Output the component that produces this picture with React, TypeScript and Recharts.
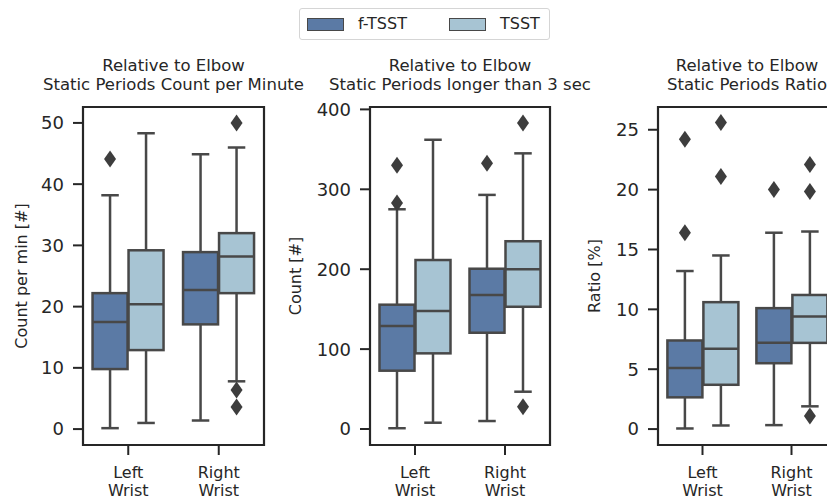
import React from "react";
import { ComposedChart, Bar, XAxis, YAxis, ReferenceArea } from "recharts";

const categories = ["Left Wrist", "Right Wrist"];
const seriesNames = ["f-TSST", "TSST"];
const seriesColors = ["#5b7aa5", "#a7c4d3"];

// [whisker low, q1, median, q3, whisker high]
const perMinFTsst = [[0.15, 9.8, 17.5, 22.2, 38.2], [1.4, 17.1, 22.7, 28.9, 44.9]];
const perMinTsst = [[1.0, 12.9, 20.4, 29.2, 48.3], [7.8, 22.2, 28.2, 32.0, 46.0]];
const perMinOutFTsst = [[44.1], []];
const perMinOutTsst = [[], [50.0, 6.4, 3.6]];

const longFTsst = [[1, 73, 129, 155.6, 275], [10, 120.5, 167.7, 200.6, 293]];
const longTsst = [[7.9, 94.7, 147.7, 211.5, 362], [46.7, 153, 200, 235, 345]];
const longOutFTsst = [[330, 283], [332.5]];
const longOutTsst = [[], [383, 28]];

const ratioFTsst = [[0.05, 2.65, 5.1, 7.4, 13.2], [0.33, 5.5, 7.2, 10.1, 16.4]];
const ratioTsst = [[0.3, 3.7, 6.7, 10.6, 14.5], [1.9, 7.2, 9.4, 11.2, 16.5]];
const ratioOutFTsst = [[24.2, 16.4], [20.0]];
const ratioOutTsst = [[25.6, 21.1], [22.1, 19.85, 1.1]];

const perMinTicks = [0, 10, 20, 30, 40, 50];
const longTicks = [0, 100, 200, 300, 400];
const ratioTicks = [0, 5, 10, 15, 20, 25];

const FONT = "'DejaVu Sans', sans-serif";
const TEXT = "#262626";
const EDGE = "#484848";

function makeRows(f: number[][], t: number[][], fo: number[][], to: number[][]) {
  return categories.map((name, i) => ({ name, f: f[i], t: t[i], fo: fo[i], to: to[i] }));
}

function BoxShape(props: any) {
  const { x, y, width, height, payload, sk, ok, fill } = props;
  const s: number[] = payload[sk];
  const outs: number[] = payload[ok] || [];
  const [lo, q1, med, q3, hi] = s;
  const yTop = Math.min(y, y + height);
  const yBot = Math.max(y, y + height);
  const unit = (yBot - yTop) / (hi - lo);
  const toY = (v: number) => yTop + (hi - v) * unit;
  const bx = x + 0.5;
  const bw = width - 1;
  const cx = x + width / 2;
  const cap = bw / 4;
  return (
    <g>
      <line x1={cx} x2={cx} y1={toY(hi)} y2={toY(q3)} stroke={EDGE} strokeWidth={2.5} />
      <line x1={cx} x2={cx} y1={toY(q1)} y2={toY(lo)} stroke={EDGE} strokeWidth={2.5} />
      <line x1={cx - cap} x2={cx + cap} y1={toY(hi)} y2={toY(hi)} stroke={EDGE} strokeWidth={2.5} />
      <line x1={cx - cap} x2={cx + cap} y1={toY(lo)} y2={toY(lo)} stroke={EDGE} strokeWidth={2.5} />
      <rect x={bx} y={toY(q3)} width={bw} height={toY(q1) - toY(q3)} fill={fill} stroke={EDGE} strokeWidth={2.5} />
      <line x1={bx} x2={bx + bw} y1={toY(med)} y2={toY(med)} stroke={EDGE} strokeWidth={2.5} />
      {outs.map((v, i) => {
        const oy = toY(v);
        return (
          <path
            key={i}
            d={`M${cx},${oy - 8.5} L${cx + 6},${oy} L${cx},${oy + 8.5} L${cx - 6},${oy} Z`}
            fill="#3d3d3d"
          />
        );
      })}
    </g>
  );
}

function CatTick(props: any) {
  const { x, y, payload } = props;
  const words = String(payload.value).split(" ");
  return (
    <text x={x} y={y} textAnchor="middle" fill={TEXT} fontSize={16} fontFamily={FONT}>
      {words.map((w, i) => (
        <tspan key={i} x={x} dy={i === 0 ? 21 : 18}>
          {w}
        </tspan>
      ))}
    </text>
  );
}

interface PanelProps {
  left: number;
  width: number;
  axisWidth: number;
  marginRight: number;
  rows: any[];
  domain: [number, number];
  ticks: number[];
  title: string;
  yLabel: string;
  labelX: number;
}

function Panel({ left, width, axisWidth, marginRight, rows, domain, ticks, title, yLabel, labelX }: PanelProps) {
  const plotLeft = left + axisWidth;
  const plotRight = left + width - marginRight;
  const center = (plotLeft + plotRight) / 2;
  return (
    <>
      <div
        style={{
          position: "absolute",
          left: center - 200,
          width: 400,
          top: 56,
          textAlign: "center",
          fontFamily: FONT,
          fontSize: 16.5,
          lineHeight: "19px",
          color: TEXT,
          whiteSpace: "nowrap",
        }}
      >
        Relative to Elbow
        <br />
        {title}
      </div>
      <div
        style={{
          position: "absolute",
          left: labelX - 100,
          top: 276 - 10,
          width: 200,
          height: 20,
          lineHeight: "20px",
          textAlign: "center",
          transform: "rotate(-90deg)",
          fontFamily: FONT,
          fontSize: 16,
          color: TEXT,
          whiteSpace: "nowrap",
        }}
      >
        {yLabel}
      </div>
      <div style={{ position: "absolute", left, top: 0 }}>
        <ComposedChart
          width={width}
          height={501}
          data={rows}
          margin={{ top: 107, right: marginRight, bottom: 0, left: 0 }}
          barCategoryGap="10%"
          barGap={0}
        >
          <XAxis
            dataKey="name"
            height={56}
            axisLine={false}
            tickLine={{ stroke: TEXT, strokeWidth: 2 }}
            tickSize={10}
            tick={<CatTick />}
            interval={0}
          />
          <YAxis
            type="number"
            domain={domain}
            ticks={ticks}
            allowDataOverflow
            width={axisWidth}
            axisLine={false}
            tickLine={{ stroke: TEXT, strokeWidth: 2 }}
            tickSize={10}
            tickMargin={9}
            tick={{ fill: TEXT, fontSize: 18, fontFamily: FONT }}
          />
          <ReferenceArea y1={domain[0]} y2={domain[1]} fill="none" stroke={TEXT} strokeWidth={2.2} ifOverflow="visible" />
          <Bar
            dataKey={(d: any) => [d.f[0], d.f[4]]}
            name={seriesNames[0]}
            isAnimationActive={false}
            shape={(p: any) => <BoxShape {...p} sk="f" ok="fo" fill={seriesColors[0]} />}
          />
          <Bar
            dataKey={(d: any) => [d.t[0], d.t[4]]}
            name={seriesNames[1]}
            isAnimationActive={false}
            shape={(p: any) => <BoxShape {...p} sk="t" ok="to" fill={seriesColors[1]} />}
          />
        </ComposedChart>
      </div>
    </>
  );
}

export default function App() {
  return (
    <div
      style={{
        position: "fixed",
        left: 0,
        top: 0,
        width: 827,
        height: 501,
        overflow: "hidden",
        background: "#fff",
      }}
    >
      <Panel
        left={0}
        width={290}
        axisWidth={83}
        marginRight={26}
        rows={makeRows(perMinFTsst, perMinTsst, perMinOutFTsst, perMinOutTsst)}
        domain={[-2.6, 52.6]}
        ticks={perMinTicks}
        title="Static Periods Count per Minute"
        yLabel="Count per min [#]"
        labelX={22}
      />
      <Panel
        left={290}
        width={280}
        axisWidth={80}
        marginRight={20}
        rows={makeRows(longFTsst, longTsst, longOutFTsst, longOutTsst)}
        domain={[-20, 403]}
        ticks={longTicks}
        title="Static Periods longer than 3 sec"
        yLabel="Count [#]"
        labelX={296}
      />
      <Panel
        left={570}
        width={280}
        axisWidth={88}
        marginRight={14}
        rows={makeRows(ratioFTsst, ratioTsst, ratioOutFTsst, ratioOutTsst)}
        domain={[-1.33, 26.9]}
        ticks={ratioTicks}
        title="Static Periods Ratio"
        yLabel="Ratio [%]"
        labelX={595}
      />
      <div
        style={{
          position: "absolute",
          left: 299,
          top: 8,
          width: 251,
          height: 32,
          boxSizing: "border-box",
          border: "1px solid #d5d5d5",
          borderRadius: 3,
          fontFamily: FONT,
          fontSize: 16,
          color: TEXT,
        }}
      >
        {seriesNames.map((n, i) => (
          <div
            key={n}
            style={{ position: "absolute", left: i === 0 ? 7 : 149, top: 6, display: "flex", alignItems: "center" }}
          >
            <span
              style={{
                display: "inline-block",
                width: 37,
                height: 13,
                boxSizing: "border-box",
                background: seriesColors[i],
                border: `1px solid ${EDGE}`,
              }}
            />
            <span style={{ marginLeft: 14, lineHeight: "18px" }}>{n}</span>
          </div>
        ))}
      </div>
    </div>
  );
}
